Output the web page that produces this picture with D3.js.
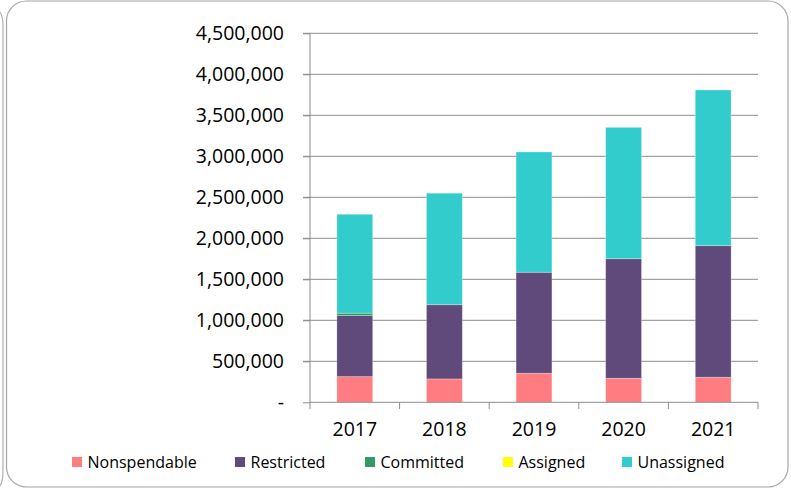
<!DOCTYPE html>
<html>
<head>
<meta charset="utf-8">
<script src="https://cdn.jsdelivr.net/npm/d3@7"></script>
<style>
  body { margin: 0; background: #fff; }
  svg { display: block; font-family: "Open Sans", sans-serif; }
</style>
</head>
<body>
<svg id="chart"></svg>
<script>
const width = 791;
const height = 489;

const years = ["2017", "2018", "2019", "2020", "2021"];
const nonspendable = [313000, 285000, 354000, 293000, 305000];
const restricted = [744000, 905000, 1232000, 1458000, 1605000];
const committed = [30000, 0, 0, 0, 0];
const assigned = [0, 0, 0, 0, 0];
const unassigned = [1206000, 1360000, 1467000, 1602000, 1899000];
const seriesNames = ["Nonspendable", "Restricted", "Committed", "Assigned", "Unassigned"];
const colors = ["#FF7C80", "#604A7B", "#339966", "#FFFF00", "#33CCCC"];
const yTicks = [0, 500000, 1000000, 1500000, 2000000, 2500000, 3000000, 3500000, 4000000, 4500000];

const svg = d3.select("#chart")
  .attr("width", width)
  .attr("height", height);

// frame pieces
svg.append("path")
  .attr("d", "M 0 12 Q 3 16 3 26 L 3 470 Q 3 482 0 486")
  .attr("fill", "none")
  .attr("stroke", "#b0b0b0")
  .attr("stroke-width", 1.2);
svg.append("rect")
  .attr("x", 6.5).attr("y", 1)
  .attr("width", 781.5).attr("height", 486)
  .attr("rx", 20).attr("ry", 20)
  .attr("fill", "none")
  .attr("stroke", "#a6a6a6")
  .attr("stroke-width", 1.2);

const table = years.map((y, i) => ({
  year: y,
  Nonspendable: nonspendable[i],
  Restricted: restricted[i],
  Committed: committed[i],
  Assigned: assigned[i],
  Unassigned: unassigned[i]
}));
const stacked = d3.stack().keys(seriesNames)(table);

const x = d3.scaleBand()
  .domain(years)
  .range([310, 758])
  .paddingInner(0.6)
  .paddingOuter(0.3);

const y = d3.scaleLinear()
  .domain([0, 4500000])
  .range([402.3, 33.3]);

// gridlines
svg.append("g")
  .selectAll("line")
  .data(yTicks.slice(1))
  .enter()
  .append("line")
  .attr("x1", 303).attr("x2", 758)
  .attr("y1", d => y(d)).attr("y2", d => y(d))
  .attr("stroke", "#8c8c8c")
  .attr("stroke-width", 1);

// bars
svg.append("g")
  .selectAll("g")
  .data(stacked)
  .enter()
  .append("g")
  .attr("fill", (d, i) => colors[i])
  .selectAll("rect")
  .data(d => d.filter(p => p[1] - p[0] > 0))
  .enter()
  .append("rect")
  .attr("x", d => x(d.data.year))
  .attr("y", d => y(d[1]))
  .attr("width", x.bandwidth())
  .attr("height", d => y(d[0]) - y(d[1]))
  .attr("stroke", "#ffffff")
  .attr("stroke-opacity", 0.35)
  .attr("stroke-width", 0.8);

// y axis
const yAxis = d3.axisLeft(y)
  .tickValues(yTicks)
  .tickSize(7)
  .tickPadding(19)
  .tickFormat(d => d === 0 ? "-" : d3.format(",")(d));

const gy = svg.append("g")
  .attr("transform", "translate(310,0)")
  .call(yAxis);
gy.select(".domain").remove();
gy.selectAll(".tick line").attr("stroke", "#8c8c8c");
gy.selectAll(".tick text")
  .attr("font-size", 19.5)
  .attr("fill", "#000")
  .style("font-family", "'Open Sans', sans-serif");
svg.append("line")
  .attr("x1", 310).attr("x2", 310)
  .attr("y1", 33.3).attr("y2", 409)
  .attr("stroke", "#8c8c8c");

// x axis
const xAxis = d3.axisBottom(x).tickSize(0).tickPadding(20);
const gx = svg.append("g")
  .attr("transform", "translate(0,402.3)")
  .call(xAxis);
gx.select(".domain").remove();
gx.selectAll(".tick text")
  .attr("font-size", 19.5)
  .attr("fill", "#000")
  .style("font-family", "'Open Sans', sans-serif");
svg.append("line")
  .attr("x1", 310).attr("x2", 758)
  .attr("y1", 402.3).attr("y2", 402.3)
  .attr("stroke", "#8c8c8c");
svg.append("g")
  .selectAll("line")
  .data(years)
  .enter()
  .append("line")
  .attr("x1", d => x(d) + x.bandwidth() / 2 + x.step() / 2)
  .attr("x2", d => x(d) + x.bandwidth() / 2 + x.step() / 2)
  .attr("y1", 402.3).attr("y2", 409)
  .attr("stroke", "#8c8c8c");

// legend
const legendX = [72, 235, 365, 503, 622];
const legend = svg.append("g")
  .selectAll("g")
  .data(seriesNames)
  .enter()
  .append("g")
  .attr("transform", (d, i) => `translate(${legendX[i]},457)`);
legend.append("rect")
  .attr("width", 10).attr("height", 10)
  .attr("fill", (d, i) => colors[i]);
legend.append("text")
  .attr("x", 15.5).attr("y", 10.5)
  .attr("font-size", 16)
  .attr("fill", "#000")
  .text(d => d);
</script>
</body>
</html>
